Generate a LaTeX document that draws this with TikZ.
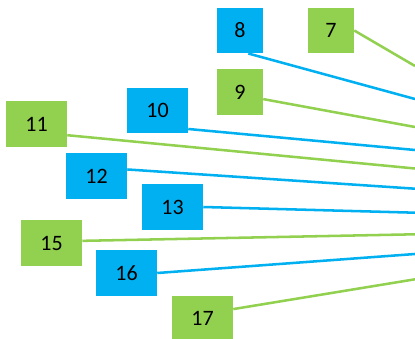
\documentclass[tikz,border=0pt]{standalone}
\usepackage{fontspec}
\setmainfont{Carlito}
\definecolor{bblue}{RGB}{0,176,240}
\definecolor{bgreen}{RGB}{146,208,80}
\tikzset{
  numbox/.style={rectangle, inner sep=0, minimum height=45.5*0.75pt,
    font=\fontsize{16.5}{19}\selectfont},
  link/.style={line width=1.9pt},
}
\newcommand{\numnode}[5]{\node[numbox, fill=#4, minimum width=#5*0.75pt] (n#1) at (#2,#3) {#1};}

\begin{document}
\begin{tikzpicture}[x=0.75pt, y=-0.75pt]
  \clip (0,0) rectangle (415,339);

  % Boxes
  % -----
  \numnode{7}{331}{30.5}{bgreen}{46}
  \numnode{8}{240}{30.5}{bblue}{46}
  \numnode{9}{240}{92}{bgreen}{46}
  \numnode{10}{157.5}{110.5}{bblue}{61}
  \numnode{11}{36.5}{124}{bgreen}{61}
  \numnode{12}{96.5}{176}{bblue}{61}
  \numnode{13}{172.5}{207}{bblue}{61}
  \numnode{15}{51.5}{243}{bgreen}{61}
  \numnode{16}{126.5}{273}{bblue}{61}
  \numnode{17}{202.5}{318.5}{bgreen}{61}

  % Links to the right edge
  % -----------------------
  \foreach \n/\a/\y/\c in {7/0/66/bgreen, 8/-70/99/bblue, 9/-17/127/bgreen,
    10/-31/150/bblue, 11/-20/168.5/bgreen, 12/12/188.7/bblue,
    13/0/212.7/bblue, 15/4/234.3/bgreen, 16/0/254/bblue, 17/17/279.3/bgreen}{
    \coordinate (e\n) at (415,\y);
    \draw[link, \c] (n\n.\a) -- (e\n);
  }
\end{tikzpicture}
\end{document}
